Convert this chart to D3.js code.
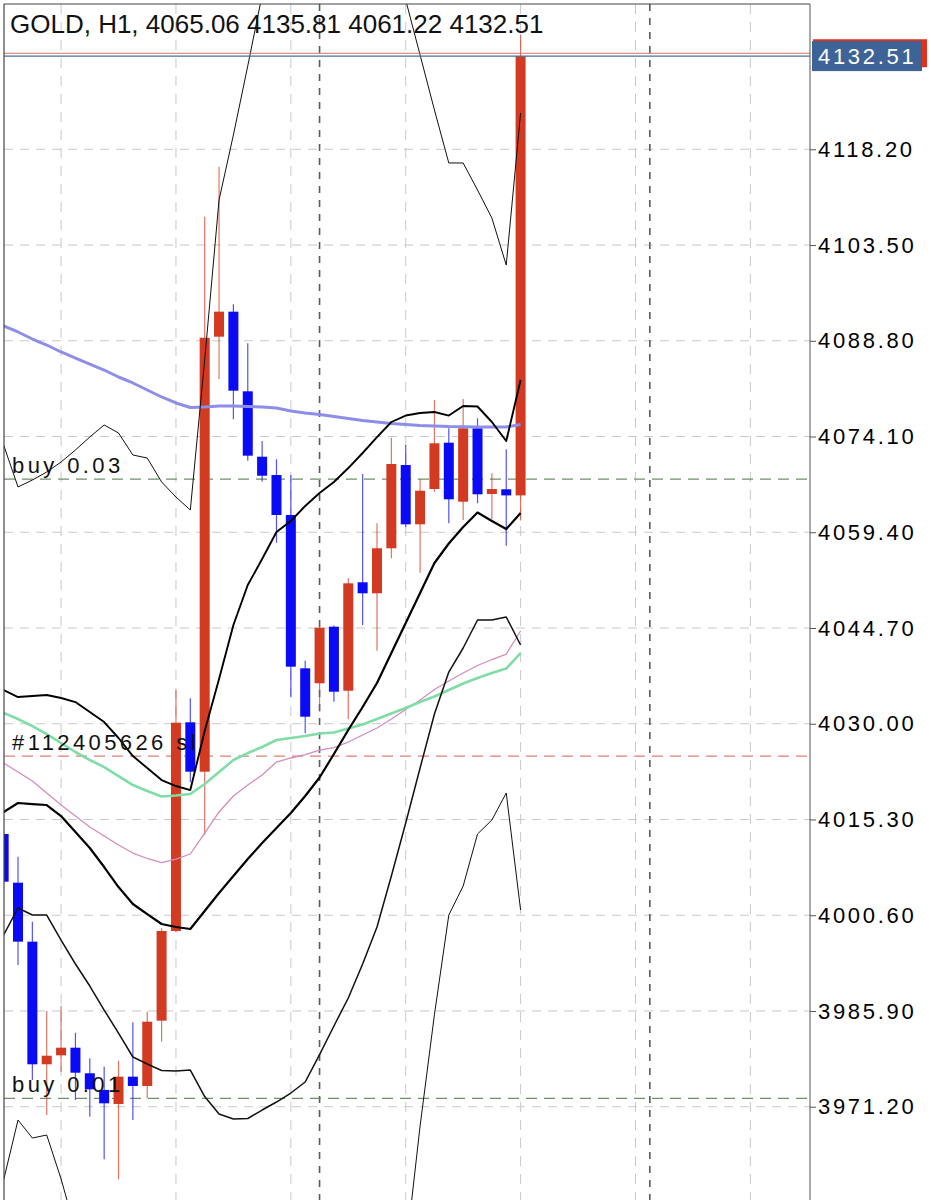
<!DOCTYPE html>
<html>
<head>
<meta charset="utf-8">
<script src="https://cdn.jsdelivr.net/npm/d3@7"></script>
<style>
  body { margin: 0; background: #fff; }
  svg { display: block; font-family: "Liberation Sans", Arial, sans-serif; }
</style>
</head>
<body>
<svg id="chart" width="931" height="1200"></svg>
<script>
// GOLD H1, oldest bar first (last bar is the one in the title)
let opens  = [4013.07, 4005.59, 3996.54, 3977.71, 3979.09, 3980.26, 3976.33, 3973.77, 3971.62, 3975.81,
              3974.38, 3984.41, 3998.18, 4030.22, 4022.64, 4089.43, 4093.27, 4081.04, 4071.00, 4068.19,
              4062.05, 4038.51, 4036.21, 4044.90, 4035.07, 4051.72, 4050.03, 4056.94, 4069.73, 4060.62,
              4066.04, 4073.15, 4064.09, 4075.36, 4065.28, 4066.00, 4065.06];
let highs  = [4013.30, 4009.59, 3999.61, 3985.90, 3986.71, 3982.56, 3978.63, 3977.34, 3978.26, 3984.16,
              3985.79, 3998.59, 4035.18, 4033.91, 4107.85, 4115.53, 4094.40, 4088.41, 4073.41, 4070.60,
              4068.19, 4039.68, 4045.42, 4045.10, 4052.33, 4068.35, 4060.78, 4073.92, 4072.80, 4067.53,
              4079.71, 4075.36, 4079.86, 4076.90, 4068.45, 4072.14, 4135.81];
let lows   = [4005.60, 3992.96, 3975.30, 3969.93, 3976.58, 3972.23, 3969.67, 3963.13, 3960.05, 3969.16,
              3972.49, 3981.18, 3998.00, 4021.00, 4012.92, 4082.93, 4076.74, 4070.39, 4067.16, 4057.80,
              4034.15, 4028.53, 4031.85, 4033.39, 4030.68, 4045.16, 4041.22, 4055.40, 4060.20, 4053.19,
              4065.60, 4060.78, 4061.28, 4063.85, 4061.39, 4057.34, 4061.22];
let closes = [4005.75, 3996.54, 3977.71, 3979.03, 3980.26, 3976.42, 3973.87, 3971.72, 3975.81, 3974.38,
              3984.25, 3998.18, 4030.16, 4022.64, 4089.27, 4093.27, 4081.14, 4071.16, 4068.08, 4062.05,
              4038.76, 4031.08, 4044.75, 4034.92, 4051.56, 4050.03, 4056.94, 4069.88, 4060.62, 4065.78,
              4073.06, 4064.46, 4075.36, 4065.23, 4066.04, 4065.06, 4132.51];

// indicators, one value per bar
let maSlow = [4091.07, 4090.15, 4089.07, 4088.15, 4087.08, 4086.15, 4085.23, 4084.31, 4083.24, 4082.32,
              4081.24, 4080.17, 4079.25, 4078.56, 4078.63, 4078.78, 4078.78, 4078.71, 4078.63, 4078.48,
              4078.02, 4077.71, 4077.48, 4077.17, 4076.87, 4076.56, 4076.33, 4076.10, 4075.95, 4075.79,
              4075.72, 4075.64, 4075.61, 4075.56, 4075.56, 4075.56, 4075.95];
let maGreen = [4031.65, 4030.72, 4029.65, 4028.42, 4027.04, 4025.66, 4024.43, 4023.35, 4021.97, 4020.59,
              4019.67, 4018.83, 4018.98, 4019.21, 4020.74, 4022.59, 4024.43, 4025.50, 4026.43, 4027.50,
              4027.81, 4028.11, 4028.50, 4028.65, 4029.27, 4029.88, 4030.72, 4031.57, 4032.41, 4033.33,
              4034.18, 4035.18, 4036.18, 4037.02, 4037.79, 4038.48, 4040.86];
let maPink = [4023.97, 4022.59, 4021.21, 4019.36, 4017.52, 4015.83, 4014.14, 4012.76, 4011.38, 4010.15,
              4009.31, 4008.69, 4009.23, 4010.00, 4013.22, 4016.45, 4018.90, 4020.59, 4022.13, 4024.12,
              4024.74, 4025.27, 4025.96, 4026.32, 4027.19, 4028.27, 4029.34, 4030.72, 4032.18, 4033.64,
              4035.25, 4036.56, 4037.79, 4038.94, 4039.86, 4040.70, 4044.24];
let outerUpper = [4072.80, 4066.35, 4067.42, 4068.65, 4070.19, 4072.03, 4074.03, 4075.87, 4074.64, 4071.26,
              4070.80, 4067.12, 4064.81, 4062.82, 4085.85, 4110.42, 4120.40, 4131.00, 4141.89, 4150.33,
              4156.48, 4161.08, 4162.62, 4162.62, 4161.08, 4158.01, 4154.17, 4149.57, 4141.12, 4132.68,
              4124.23, 4116.10, 4116.10, 4111.95, 4107.65, 4100.43, 4123.77];
let innerUpper = [4035.18, 4034.10, 4034.26, 4034.41, 4033.95, 4033.33, 4031.80, 4030.26, 4027.81, 4025.04,
              4023.20, 4021.36, 4020.44, 4019.82, 4028.88, 4036.87, 4045.16, 4051.30, 4055.29, 4059.44,
              4061.13, 4063.43, 4065.42, 4067.11, 4069.26, 4071.57, 4074.02, 4076.33, 4077.32, 4077.71,
              4077.86, 4077.32, 4078.78, 4078.71, 4076.33, 4073.41, 4082.77];
let innerLower = [4016.45, 4017.83, 4017.67, 4017.52, 4015.83, 4013.37, 4010.92, 4008.00, 4004.93, 4002.32,
              4000.78, 3999.25, 3998.79, 3998.48, 4001.25, 4004.01, 4006.62, 4009.23, 4011.69, 4013.99,
              4016.29, 4018.90, 4021.74, 4025.35, 4029.04, 4032.57, 4036.25, 4040.86, 4045.46, 4050.07,
              4054.68, 4057.67, 4060.20, 4062.43, 4061.13, 4059.90, 4062.35];
let midLower = [3997.56, 4001.71, 4000.63, 4000.63, 3996.79, 3993.11, 3989.73, 3986.04, 3982.51, 3978.83,
              3977.75, 3976.75, 3976.68, 3976.83, 3972.76, 3970.08, 3969.31, 3969.39, 3970.69, 3971.92,
              3973.30, 3974.99, 3979.21, 3983.59, 3987.89, 3993.11, 3998.79, 4006.62, 4014.76, 4023.20,
              4031.49, 4037.94, 4041.63, 4045.93, 4045.93, 4046.39, 4042.09];
let outerLower = [3959.94, 3969.16, 3966.39, 3966.85, 3960.10, 3952.27, 3947.35, 3942.29, 3937.68, 3933.07,
              3929.54, 3926.16, 3923.86, 3922.33, 3920.02, 3918.49, 3917.72, 3917.72, 3918.49, 3920.02,
              3921.56, 3923.09, 3924.63, 3926.16, 3927.70, 3929.23, 3930.77, 3935.38, 3948.73, 3968.23,
              3985.35, 4000.63, 4005.08, 4013.07, 4015.22, 4019.36, 4001.40];

let priceTicks = [4118.20, 4103.50, 4088.80, 4074.10, 4059.40, 4044.70, 4030.00, 4015.30, 4000.60, 3985.90, 3971.20];
let gridBars = [4, 12, 20, 28, 36, 44, 52];
let separatorBars = [22, 45];

let orderLabels = ["buy 0.03", "#112405626 sl", "buy 0.01"];
let orderPrices = [4067.57, 4025.04, 3972.49];
let orderColors = ["#6f8f6a", "#d9826f", "#6f8f6a"];

let bidPrice = 4132.51;
let askPrice = 4132.95;
let title = "GOLD, H1, 4065.06 4135.81 4061.22 4132.51";

let svg = d3.select("#chart");
let W = 931, H = 1200;
let plotLeft = 4, plotTop = 4, axisX = 810;

let x = d3.scaleLinear().domain([0, 36]).range([3.64, 520.6]);
let y = d3.scaleLinear().domain([3971.2, 4118.2]).range([1106.7, 149.3]);

svg.append("rect").attr("width", W).attr("height", H).attr("fill", "#fff");

svg.append("defs").append("clipPath").attr("id", "plot")
    .append("rect").attr("x", plotLeft).attr("y", plotTop).attr("width", axisX - plotLeft).attr("height", H - plotTop);

let plot = svg.append("g").attr("clip-path", "url(#plot)");

// grid
plot.selectAll(".hgrid").data(priceTicks).enter().append("line")
    .attr("x1", plotLeft).attr("x2", axisX)
    .attr("y1", d => y(d)).attr("y2", d => y(d))
    .attr("stroke", "#c9c9c9").attr("stroke-width", 1).attr("stroke-dasharray", "9,7");

plot.selectAll(".vgrid").data(gridBars).enter().append("line")
    .attr("x1", d => x(d)).attr("x2", d => x(d))
    .attr("y1", plotTop).attr("y2", H)
    .attr("stroke", "#c9c9c9").attr("stroke-width", 1).attr("stroke-dasharray", "10,8");

plot.selectAll(".sep").data(separatorBars).enter().append("line")
    .attr("x1", d => x(d)).attr("x2", d => x(d))
    .attr("y1", plotTop).attr("y2", H)
    .attr("stroke", "#5a5a5a").attr("stroke-width", 1.6).attr("stroke-dasharray", "7,7");

// order lines
plot.selectAll(".order").data(orderPrices).enter().append("line")
    .attr("x1", plotLeft).attr("x2", axisX)
    .attr("y1", d => y(d)).attr("y2", d => y(d))
    .attr("stroke", (d, i) => orderColors[i]).attr("stroke-width", 1.2).attr("stroke-dasharray", "11,7");

// candles
let bars = d3.range(opens.length);
let colorOf = i => closes[i] >= opens[i] ? "#d33a22" : "#0a0af5";

plot.selectAll(".wick").data(bars).enter().append("line")
    .attr("x1", i => x(i)).attr("x2", i => x(i))
    .attr("y1", i => y(highs[i])).attr("y2", i => y(lows[i]))
    .attr("stroke", i => colorOf(i)).attr("stroke-opacity", 0.7).attr("stroke-width", 1.2);

plot.selectAll(".body").data(bars).enter().append("rect")
    .attr("x", i => x(i) - 5)
    .attr("width", 10)
    .attr("y", i => y(Math.max(opens[i], closes[i])))
    .attr("height", i => Math.max(1.5, Math.abs(y(opens[i]) - y(closes[i]))))
    .attr("fill", i => colorOf(i));

// indicator lines
let line = d3.line().x((d, i) => x(i)).y(d => y(d));
let series = [
    { data: maPink, color: "#d48cbc", width: 1.3 },
    { data: maGreen, color: "#7fdda5", width: 2.6 },
    { data: maSlow, color: "#8e8de8", width: 3 },
    { data: outerUpper, color: "#111", width: 1 },
    { data: outerLower, color: "#111", width: 1 },
    { data: midLower, color: "#111", width: 1.5 },
    { data: innerUpper, color: "#000", width: 1.9 },
    { data: innerLower, color: "#000", width: 2.2 }
];
plot.selectAll(".ind").data(series).enter().append("path")
    .attr("d", s => line(s.data))
    .attr("fill", "none")
    .attr("stroke", s => s.color)
    .attr("stroke-width", s => s.width)
    .attr("stroke-linejoin", "round");

// bid / ask lines
plot.append("line").attr("x1", plotLeft).attr("x2", axisX)
    .attr("y1", y(askPrice)).attr("y2", y(askPrice))
    .attr("stroke", "#d9705c").attr("stroke-width", 1.2);
plot.append("line").attr("x1", plotLeft).attr("x2", axisX)
    .attr("y1", y(bidPrice)).attr("y2", y(bidPrice))
    .attr("stroke", "#4a6fa5").attr("stroke-width", 1.2);

// order labels
plot.selectAll(".olabel").data(orderLabels).enter().append("text")
    .attr("x", 12)
    .attr("y", (d, i) => y(orderPrices[i]) - 6)
    .attr("font-size", 22)
    .attr("letter-spacing", 3.4)
    .attr("fill", "#111")
    .text(d => d);

// title
svg.append("text").attr("x", 10).attr("y", 33)
    .attr("font-size", 26).attr("fill", "#111")
    .text(title);

// frame
svg.append("line").attr("x1", plotLeft).attr("x2", axisX).attr("y1", plotTop).attr("y2", plotTop)
    .attr("stroke", "#444").attr("stroke-width", 1.2);
svg.append("line").attr("x1", plotLeft).attr("x2", plotLeft).attr("y1", plotTop).attr("y2", H)
    .attr("stroke", "#444").attr("stroke-width", 1.2);

// right price axis
let axis = d3.axisRight(y).tickValues(priceTicks).tickFormat(d3.format(".2f")).tickSize(6).tickPadding(2);
let axisG = svg.append("g").attr("transform", `translate(${axisX},0)`).call(axis);
axisG.select(".domain").attr("stroke", "#555").attr("d", `M0,${plotTop}V${H}`);
axisG.selectAll(".tick line").attr("stroke", "#555");
axisG.selectAll(".tick text")
    .attr("font-family", "'Liberation Sans', Arial, sans-serif")
    .attr("font-size", 22).attr("letter-spacing", 2.7).attr("fill", "#000");

// current price label
let bidY = y(bidPrice), askY = y(askPrice);
svg.append("rect").attr("x", axisX + 3).attr("y", askY - 14).attr("width", 114).attr("height", 28)
    .attr("fill", "#e0311d");
svg.append("rect").attr("x", axisX + 2).attr("y", bidY - 15).attr("width", 110).attr("height", 30)
    .attr("fill", "#3e6497");
svg.append("text").attr("x", axisX + 8).attr("y", bidY + 8)
    .attr("font-size", 22).attr("letter-spacing", 2.7).attr("fill", "#fff")
    .text(d3.format(".2f")(bidPrice));
</script>
</body>
</html>
